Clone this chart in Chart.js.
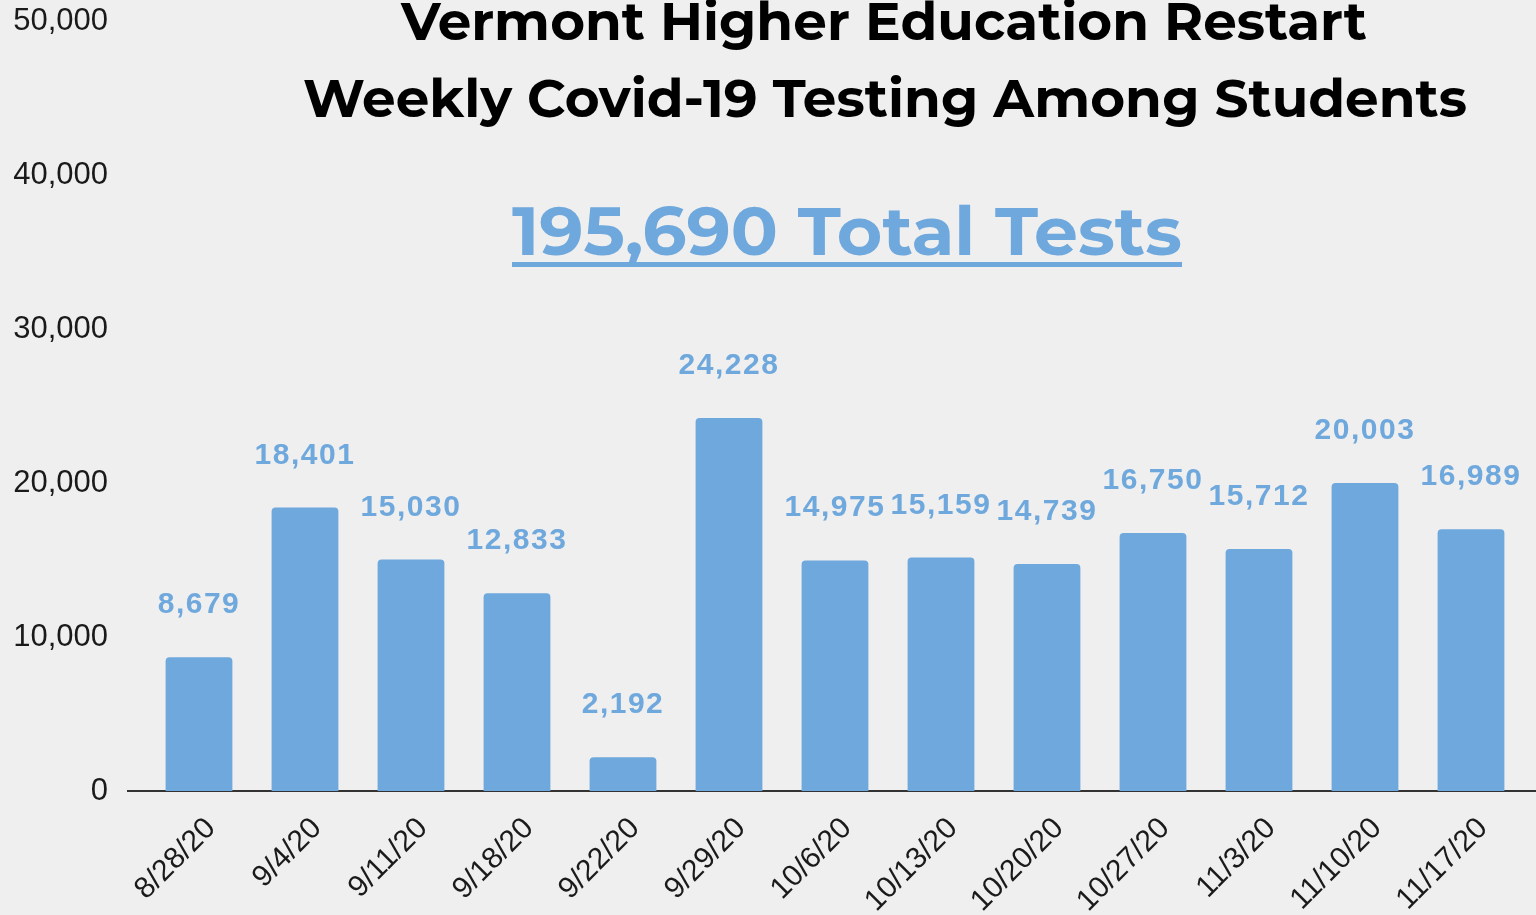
<!DOCTYPE html>
<html>
<head>
<meta charset="utf-8">
<script src="https://cdn.jsdelivr.net/npm/chart.js@4.4.0/dist/chart.umd.min.js"></script>
<style>
  html, body { margin: 0; padding: 0; background: #efefef; overflow: hidden; }
  canvas { display: block; }
</style>
</head>
<body>
<canvas id="myChart" width="1536" height="915"></canvas>
<script>
// data
var weeks = ['8/28/20', '9/4/20', '9/11/20', '9/18/20', '9/22/20', '9/29/20', '10/6/20',
             '10/13/20', '10/20/20', '10/27/20', '11/3/20', '11/10/20', '11/17/20'];
var tests = [8679, 18401, 15030, 12833, 2192, 24228, 14975, 15159, 14739, 16750, 15712, 20003, 16989];
var yTicks = [0, 10000, 20000, 30000, 40000, 50000];
var titleLines = ['Vermont Higher Education Restart', 'Weekly Covid-19 Testing Among Students'];

var total = tests.reduce(function (s, v) { return s + v; }, 0);
var totalText = total.toLocaleString('en-US') + ' Total Tests';

const BLUE = '#6fa8dc';
const titleFont = '"Montserrat", "Open Sans", sans-serif';
const axisFont = '"Liberation Sans", Arial, sans-serif';

// draw text centred on cx, squeezed/stretched to a given width
function fitText(c, text, cx, y, w) {
    var m = c.measureText(text).width;
    c.save();
    c.translate(cx, y);
    c.scale(w / m, 1);
    c.textAlign = 'center';
    c.fillText(text, 0, 0);
    c.restore();
}

const overlay = {
    id: 'overlay',
    beforeDatasetsDraw(chart) {
        // zero line, under the bars
        const c = chart.ctx;
        const y0 = chart.scales.y.getPixelForValue(0);
        c.save();
        c.strokeStyle = '#333';
        c.lineWidth = 2;
        c.beginPath();
        c.moveTo(127, y0);
        c.lineTo(chart.width, y0);
        c.stroke();
        c.restore();
    },
    afterDatasetsDraw(chart) {
        const c = chart.ctx;
        const meta = chart.getDatasetMeta(0);
        c.save();
        // value labels
        c.fillStyle = BLUE;
        c.font = 'bold 30px ' + axisFont;
        c.letterSpacing = '1.5px';
        c.textAlign = 'center';
        c.textBaseline = 'alphabetic';
        meta.data.forEach(function (bar, i) {
            c.fillText(tests[i].toLocaleString('en-US'), bar.x, bar.y - 44);
        });
        c.letterSpacing = '0px';

        // titles
        c.fillStyle = '#000';
        c.font = 'bold 52px ' + titleFont;
        fitText(c, titleLines[0], 884, 40, 966);
        fitText(c, titleLines[1], 885, 117, 1164);

        c.fillStyle = BLUE;
        c.font = 'bold 67px ' + titleFont;
        fitText(c, totalText, 847, 255, 670);
        c.fillRect(512, 262, 670, 5);
        c.restore();
    }
};

const ctx = document.getElementById('myChart').getContext('2d');

const myChart = new Chart(ctx, {
    type: 'bar',
    data: {
        labels: weeks,
        datasets: [{
            label: 'Tests',
            data: tests,
            backgroundColor: BLUE,
            borderRadius: 4,
            borderSkipped: 'start',
            categoryPercentage: 1,
            barPercentage: 0.63
        }]
    },
    options: {
        responsive: false,
        animation: false,
        layout: { padding: { top: 21, right: 12, bottom: 0, left: 0 } },
        plugins: {
            legend: { display: false },
            title: { display: false },
            tooltip: { enabled: false }
        },
        scales: {
            x: {
                grid: { display: false, drawTicks: false },
                border: { display: false },
                ticks: {
                    color: '#1a1a1a',
                    font: { family: axisFont, size: 30 },
                    minRotation: 45,
                    maxRotation: 45,
                    padding: 20,
                    labelOffset: 12
                },
                afterFit: function (s) { s.height = 124; }
            },
            y: {
                min: 0,
                max: 50000,
                afterBuildTicks: function (s) {
                    s.ticks = yTicks.map(function (v) { return { value: v }; });
                },
                grid: { display: false, drawTicks: false },
                border: { display: false },
                ticks: {
                    color: '#1a1a1a',
                    font: { family: axisFont, size: 31 },
                    padding: 38,
                    callback: function (value) { return value.toLocaleString('en-US'); }
                },
                afterFit: function (s) {
                    s.width = 146;
                    // tick padding is horizontal here, don't let it push the top down
                    s.paddingTop = 0;
                    s.paddingBottom = 0;
                }
            }
        }
    },
    plugins: [overlay]
});
</script>
</body>
</html>
